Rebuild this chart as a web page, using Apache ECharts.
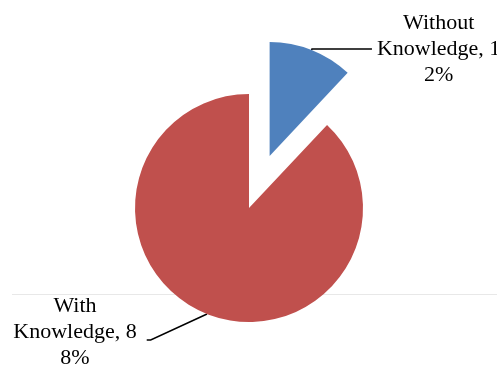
<!DOCTYPE html>
<html>
<head>
<meta charset="utf-8">
<script src="https://cdn.jsdelivr.net/npm/echarts@6/dist/echarts.min.js"></script>
<style>
  html, body { margin: 0; padding: 0; background: #fff; }
  #pie-echarts { width: 497px; height: 370px; }
</style>
</head>
<body>
<div id="pie-echarts"></div>
<script>
// 知识掌握情况
var names = ["Without Knowledge", "With Knowledge"];
var values = [12, 88];
var colors = ["#4f81bd", "#c0504d"];
var exploded = [true, false]; // 分离出来的扇区

var pieData = names.map(function (n, i) {
  return {
    name: n,
    value: values[i],
    selected: exploded[i],
    itemStyle: { color: colors[i] }
  };
});

var option = {
  backgroundColor: "#fff",
  animation: false,
  graphic: [
    {
      type: "line",
      z: -1,
      shape: { x1: 12, y1: 294.5, x2: 497, y2: 294.5 },
      style: { stroke: "#e8e8e8", lineWidth: 1 }
    }
  ],
  series: [
    {
      type: "pie",
      center: [249, 208],
      radius: 114,
      startAngle: 90,
      clockwise: true,
      selectedMode: "single",
      selectedOffset: 56,
      avoidLabelOverlap: false,
      emphasis: { disabled: true },
      label: {
        show: true,
        position: "outside",
        color: "#000",
        fontFamily: "Liberation Serif",
        fontSize: 22,
        lineHeight: 26,
        formatter: function (p) {
          var s = p.value + "%";
          var lines = [p.name.split(" ")[0], p.name.split(" ")[1] + ", " + s.charAt(0), s.slice(1)];
          return lines.map(function (t) { return "{c|" + t + "}"; }).join("\n");
        },
        rich: {
          c: {
            align: "center",
            color: "#000",
            fontFamily: "Liberation Serif",
            fontSize: 22,
            lineHeight: 26
          }
        }
      },
      labelLine: {
        show: true,
        length: 1,
        length2: 60,
        lineStyle: { color: "#000", width: 1.5 }
      },
      labelLayout: function (params) {
        // 左下角的标签手动放置，引导线接到第二行右侧
        if (params.dataIndex === 1) {
          var lx = 75, ly = 332;
          var endX = lx + params.labelRect.width / 2 + 10;
          var start = params.labelLinePoints ? params.labelLinePoints[0] : null;
          var res = { x: lx, y: ly, align: "center", verticalAlign: "middle" };
          if (start) {
            res.labelLinePoints = [start, [endX + 4, ly + 8], [endX, ly + 8]];
          }
          return res;
        }
      },
      data: pieData
    }
  ]
};

var myChart = echarts.init(document.getElementById("pie-echarts"), null, { renderer: "canvas" });
myChart.setOption(option);
</script>
</body>
</html>
